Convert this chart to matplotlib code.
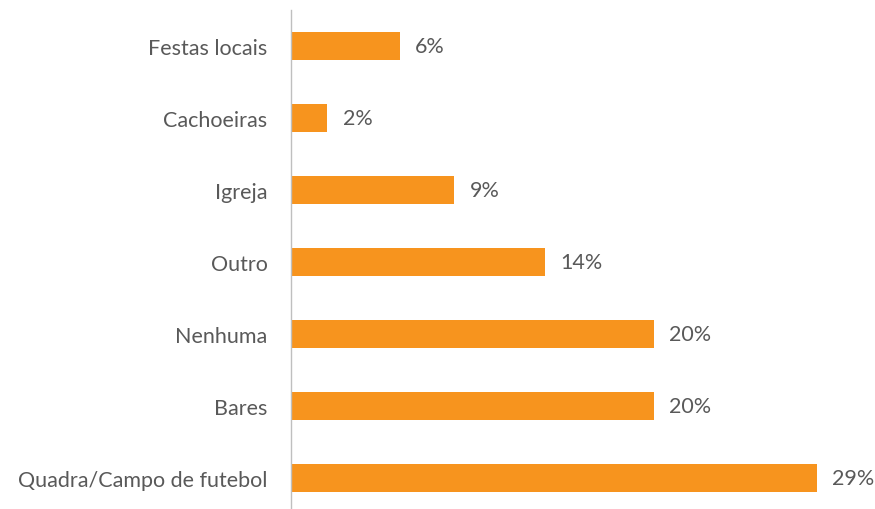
import matplotlib.pyplot as plt

categories = ['Festas locais', 'Cachoeiras', 'Igreja', 'Outro', 'Nenhuma', 'Bares',
              'Quadra/Campo de futebol']
values = [6, 2, 9, 14, 20, 20, 29]
labels = ['6%', '2%', '9%', '14%', '20%', '20%', '29%']

plt.rcParams['font.family'] = ['Lato', 'DejaVu Sans']

fig = plt.figure(figsize=(8.75, 5.1), dpi=100)
ax = fig.add_axes([0.3326, -0.0098, 0.6674, 0.9882])

ypos = list(range(len(categories)))[::-1]
ax.barh(ypos, values, height=0.39, color='#F7941E')

for y, v, lab in zip(ypos, values, labels):
    ax.text(v + 0.85, y, lab, va='center', ha='left', fontsize=15.5, color='#595959')

ax.set_yticks(ypos)
ax.set_yticklabels(categories, fontsize=15.5, color='#595959')
ax.tick_params(axis='y', length=0, pad=17)
ax.set_xticks([])
ax.set_xlim(0, 32.2)
ax.set_ylim(-0.5, 6.5)

for s in ['top', 'right', 'bottom']:
    ax.spines[s].set_visible(False)
ax.spines['left'].set_color('#BFBFBF')
ax.spines['left'].set_linewidth(1)

fig.savefig('out.png', dpi=100)
